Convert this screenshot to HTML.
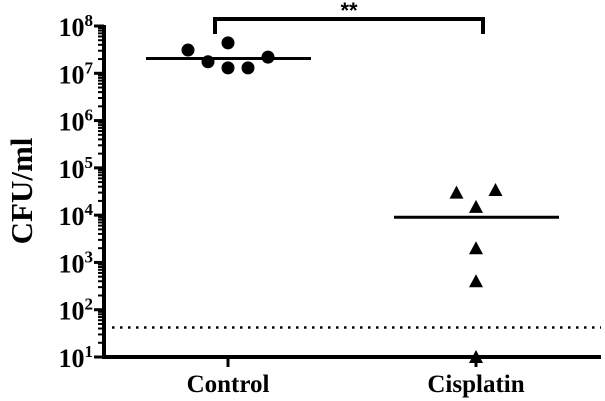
<!DOCTYPE html>
<html><head><meta charset="utf-8">
<style>
html,body{margin:0;padding:0;background:#fff;}
svg{display:block;}
text{font-family:"Liberation Serif",serif;font-weight:bold;fill:#000;}
</style></head>
<body>
<svg id="chart" width="605" height="401" viewBox="0 0 605 401" xmlns="http://www.w3.org/2000/svg"></svg>
<script>
const categories = ["Control", "Cisplatin"];
const controlValues = [3.1e7, 1.75e7, 4.4e7, 1.3e7, 1.3e7, 2.2e7];
const controlJitter = [-2, -1, 0, 0, 1, 2];
const cisplatinValues = [3.0e4, 3.4e4, 1.5e4, 2.0e3, 4.0e2, 1.0e1];
const cisplatinJitter = [-1, 1, 0, 0, 0, 0];
const groupCenters = [2.05e7, 9.0e3];
const detectionLimit = 42;
const tickExponents = [1, 2, 3, 4, 5, 6, 7, 8];

const NS = "http://www.w3.org/2000/svg";
const svg = document.getElementById("chart");
const X0 = 104, X1 = 601, Ytop = 26, Ybot = 357;
function yScale(v){ return Ybot - (Math.log10(v) - 1) * (Ybot - Ytop) / 7; }
function xScale(i){ return 228 + i * 248; }
function mk(tag, attrs){ const e = document.createElementNS(NS, tag); for (const k in attrs) e.setAttribute(k, attrs[k]); svg.appendChild(e); return e; }

let dl = mk("line", {x1:112, x2:601, y1:yScale(detectionLimit), y2:yScale(detectionLimit), stroke:"#000", "stroke-width":2.5, "stroke-dasharray":"2.5 5.5"});



let ya = mk("line", {x1:X0, x2:X0, y1:Ytop-1, y2:Ybot+2, stroke:"#000", "stroke-width":4});


tickExponents.forEach(e => {
  const y = yScale(Math.pow(10, e));
  let t = mk("line", {x1:X0-10, x2:X0, y1:y, y2:y, stroke:"#000", "stroke-width":3});
  
  
  let lb = mk("text", {x:93, y:y+10, "text-anchor":"end", "font-size":"26"});
  
  
  lb.textContent = "10";
  let sup = document.createElementNS(NS, "tspan");
  sup.setAttribute("dy", "-10"); sup.setAttribute("font-size", "17");
  sup.textContent = e;
  lb.appendChild(sup);
  if (e < 8) for (let m = 2; m <= 9; m++) {
    const ym = yScale(m * Math.pow(10, e));
    let mt = mk("line", {x1:X0-6, x2:X0, y1:ym, y2:ym, stroke:"#000", "stroke-width":2});
    
    
  }
});

let xa = mk("line", {x1:X0-2, x2:X1, y1:Ybot, y2:Ybot, stroke:"#000", "stroke-width":4});


categories.forEach((c, i) => {
  const x = xScale(i);
  let t = mk("line", {x1:x, x2:x, y1:Ybot, y2:Ybot+10, stroke:"#000", "stroke-width":3});
  
  
  let lb = mk("text", {x:x, y:392, "text-anchor":"middle", "font-size":"25"});
  
  
  lb.textContent = c;
});

let yt = mk("text", {x:0, y:0, "text-anchor":"middle", "font-size":"31", transform:"translate(32,191) rotate(-90)"});


yt.textContent = "CFU/ml";

groupCenters.forEach((v, i) => {
  const x = xScale(i), y = yScale(v);
  let l = mk("line", {x1:x-82, x2:x+83, y1:y, y2:y, stroke:"#000", "stroke-width":3});
  
  
});

controlValues.forEach((v, i) => {
  let c = mk("circle", {cx:xScale(0) + controlJitter[i]*20, cy:yScale(v), r:6.5, fill:"#000"});
  
  
});
cisplatinValues.forEach((v, i) => {
  const x = xScale(1) + cisplatinJitter[i]*19.5, y = yScale(v);
  let p = mk("polygon", {points:`${x},${y-7} ${x-7},${y+6} ${x+7},${y+6}`, fill:"#000"});
  
  
});

let br = mk("polyline", {points:"215,34 215,19 483,19 483,34", fill:"none", stroke:"#000", "stroke-width":4});


let st = mk("text", {x:349, y:18, "text-anchor":"middle", "font-size":"22", style:"font-family:'Liberation Sans',sans-serif"});


st.textContent = "**";
</script>
</body></html>
